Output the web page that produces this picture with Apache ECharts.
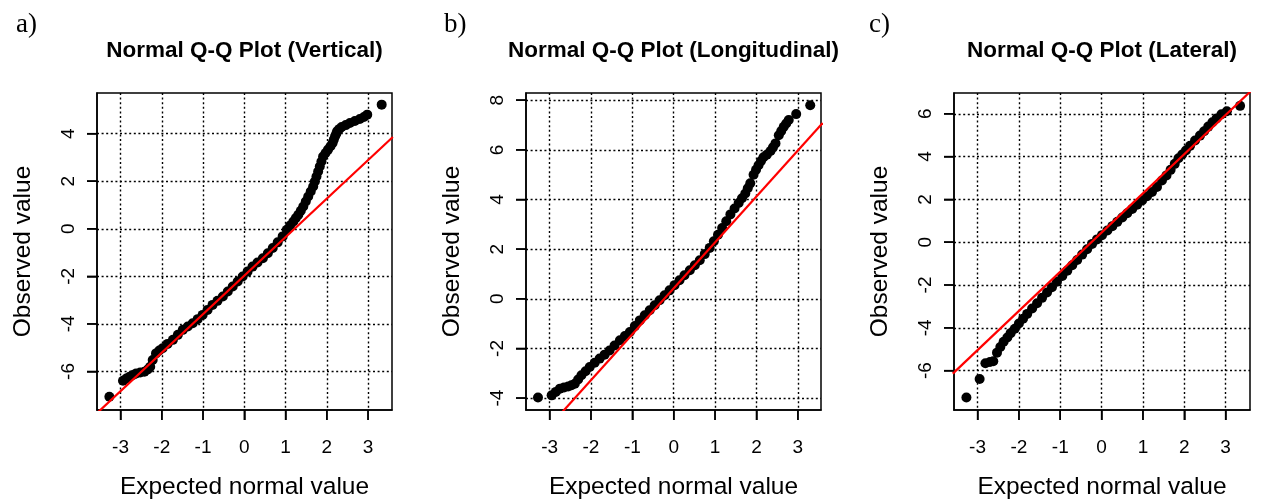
<!DOCTYPE html>
<html>
<head>
<meta charset="utf-8">
<title>Normal Q-Q Plots</title>
<script src="https://cdn.jsdelivr.net/npm/echarts@6/dist/echarts.min.js"></script>
<style>
  html, body { margin: 0; padding: 0; background: #fff; }
  #chart { width: 1262px; height: 500px; }
</style>
</head>
<body>
<div id="chart"></div>
<script>
// Panel titles and letters
const panelLetters = ['a)', 'b)', 'c)'];
const panelTitles = ['Normal Q-Q Plot (Vertical)', 'Normal Q-Q Plot (Longitudinal)', 'Normal Q-Q Plot (Lateral)'];

// Tick labels
const xTicks = [-3, -2, -1, 0, 1, 2, 3];
const yTicksA = [-6, -4, -2, 0, 2, 4];
const yTicksB = [-4, -2, 0, 2, 4, 6, 8];
const yTicksC = [-6, -4, -2, 0, 2, 4, 6];

// Vertical: expected normal value / observed value
const vertExpected = [-3.27, -2.94, -2.86, -2.78, -2.70, -2.62, -2.52, -2.42, -2.34, -2.28, -2.22, -2.14, -2.06, -1.98, -1.86, -1.73, -1.61, -1.49, -1.37, -1.25, -1.13, -1.01, -0.89, -0.77, -0.65, -0.52, -0.40, -0.28, -0.16, -0.04, 0.08, 0.20, 0.32, 0.45, 0.57, 0.69, 0.81, 0.93, 1.03, 1.11, 1.19, 1.25, 1.31, 1.37, 1.43, 1.49, 1.55, 1.61, 1.67, 1.71, 1.75, 1.79, 1.83, 1.87, 1.91, 1.97, 2.03, 2.09, 2.14, 2.17, 2.20, 2.23, 2.25, 2.30, 2.36, 2.46, 2.56, 2.68, 2.80, 2.90, 2.98, 3.33];
const vertObserved = [-7.06, -6.39, -6.30, -6.22, -6.15, -6.08, -6.04, -6.01, -5.92, -5.80, -5.52, -5.24, -5.12, -5.02, -4.84, -4.67, -4.46, -4.25, -4.11, -3.97, -3.80, -3.62, -3.41, -3.20, -3.03, -2.85, -2.64, -2.43, -2.22, -2.01, -1.80, -1.59, -1.42, -1.24, -1.03, -0.81, -0.57, -0.32, -0.04, 0.14, 0.31, 0.45, 0.59, 0.76, 0.94, 1.15, 1.36, 1.57, 1.78, 1.99, 2.20, 2.41, 2.62, 2.83, 3.04, 3.19, 3.33, 3.47, 3.61, 3.75, 3.89, 4.00, 4.10, 4.19, 4.28, 4.36, 4.45, 4.53, 4.62, 4.70, 4.80, 5.22];
const vertRefLine = [[-3.6, -7.80], [3.6, 3.86]];

// Longitudinal
const longExpected = [-3.28, -2.95, -2.85, -2.75, -2.65, -2.55, -2.47, -2.39, -2.31, -2.23, -2.13, -2.03, -1.91, -1.79, -1.67, -1.55, -1.43, -1.30, -1.18, -1.06, -0.94, -0.82, -0.70, -0.58, -0.46, -0.34, -0.22, -0.10, 0.02, 0.14, 0.26, 0.39, 0.51, 0.63, 0.75, 0.87, 0.97, 1.07, 1.17, 1.27, 1.37, 1.47, 1.57, 1.65, 1.73, 1.79, 1.85, 1.93, 1.99, 2.05, 2.11, 2.17, 2.25, 2.34, 2.40, 2.46, 2.54, 2.60, 2.66, 2.72, 2.78, 2.96, 3.30];
const longObserved = [-3.98, -3.89, -3.75, -3.62, -3.57, -3.53, -3.48, -3.42, -3.25, -3.08, -2.92, -2.75, -2.58, -2.41, -2.25, -2.08, -1.88, -1.67, -1.50, -1.34, -1.10, -0.87, -0.66, -0.46, -0.26, -0.06, 0.14, 0.34, 0.55, 0.75, 0.95, 1.15, 1.35, 1.55, 1.80, 2.05, 2.32, 2.58, 2.85, 3.12, 3.40, 3.64, 3.86, 4.05, 4.24, 4.45, 4.65, 5.00, 5.20, 5.38, 5.55, 5.70, 5.80, 5.95, 6.10, 6.26, 6.59, 6.76, 6.93, 7.06, 7.20, 7.44, 7.80];
const longRefLine = [[-3.6, -6.24], [3.6, 7.08]];

// Lateral
const latExpected = [-3.27, -2.95, -2.81, -2.70, -2.62, -2.53, -2.45, -2.37, -2.28, -2.20, -2.10, -2.00, -1.90, -1.80, -1.68, -1.56, -1.44, -1.32, -1.20, -1.08, -0.95, -0.83, -0.71, -0.59, -0.47, -0.35, -0.23, -0.11, 0.01, 0.14, 0.26, 0.38, 0.50, 0.62, 0.74, 0.86, 0.98, 1.10, 1.22, 1.34, 1.46, 1.57, 1.67, 1.77, 1.86, 1.95, 2.04, 2.14, 2.26, 2.38, 2.48, 2.58, 2.68, 2.78, 2.90, 3.03, 3.35];
const latObserved = [-7.26, -6.39, -5.66, -5.60, -5.56, -5.16, -4.90, -4.65, -4.45, -4.25, -4.04, -3.80, -3.58, -3.35, -3.10, -2.85, -2.60, -2.35, -2.10, -1.85, -1.58, -1.33, -1.08, -0.83, -0.58, -0.33, -0.08, 0.13, 0.33, 0.55, 0.75, 0.95, 1.15, 1.35, 1.55, 1.75, 1.95, 2.15, 2.35, 2.58, 2.88, 3.12, 3.38, 3.66, 3.92, 4.10, 4.28, 4.50, 4.75, 4.98, 5.18, 5.40, 5.60, 5.78, 5.98, 6.12, 6.37];
const latRefLine = [[-3.6, -6.14], [3.6, 7.04]];

const panels = [
  { left: 97,  width: 295, xRange: [-3.57, 3.58], yRange: [-7.62, 5.71], yTicks: yTicksA, xs: vertExpected, ys: vertObserved, ref: vertRefLine },
  { left: 526, width: 295, xRange: [-3.57, 3.56], yRange: [-4.48, 8.29], yTicks: yTicksB, xs: longExpected, ys: longObserved, ref: longRefLine },
  { left: 954, width: 296, xRange: [-3.57, 3.59], yRange: [-7.84, 6.97], yTicks: yTicksC, xs: latExpected, ys: latObserved, ref: latRefLine }
];
const plotTop = 93;
const plotHeight = 317;
const tickLen = 10;
const sans = '"Liberation Sans", Arial, sans-serif';

// Outward tick marks on the bottom and left edges of a plot box
function xTickMark(params, api) {
  const x = api.coord([api.value(0), api.value(1)])[0];
  const yb = params.coordSys.y + params.coordSys.height;
  return { type: 'line', shape: { x1: x, y1: yb, x2: x, y2: yb + tickLen }, style: { stroke: '#000', lineWidth: 1.5 } };
}
function yTickMark(params, api) {
  const y = api.coord([api.value(0), api.value(1)])[1];
  const xl = params.coordSys.x;
  return { type: 'line', shape: { x1: xl, y1: y, x2: xl - tickLen, y2: y }, style: { stroke: '#000', lineWidth: 1.5 } };
}

const grids = [], xAxes = [], yAxes = [], series = [], graphics = [];
panels.forEach((p, i) => {
  grids.push({
    left: p.left, top: plotTop, width: p.width, height: plotHeight,
    containLabel: false, outerBoundsMode: 'none',
    show: true, borderColor: '#000', borderWidth: 1.5, backgroundColor: 'transparent'
  });
  const edgeStyle = { color: '#000', width: 1.5 };
  const gridStyle = { color: '#000', width: 1.4, type: [2, 2.6] };
  xAxes.push({
    gridIndex: i, type: 'value', min: p.xRange[0], max: p.xRange[1],
    position: 'bottom',
    axisLine: { show: true, onZero: false, lineStyle: edgeStyle },
    axisTick: { show: true, inside: false, length: tickLen, lineStyle: edgeStyle, customValues: xTicks },
    axisLabel: { show: true, customValues: xTicks, color: '#000', fontSize: 19, fontFamily: sans, margin: 28,
                 formatter: v => String(v) },
    splitLine: { show: true, lineStyle: gridStyle },
    name: 'Expected normal value', nameLocation: 'middle', nameGap: 65,
    nameTextStyle: { color: '#000', fontSize: 24.5, fontFamily: sans }
  });
  yAxes.push({
    gridIndex: i, type: 'value', min: p.yRange[0], max: p.yRange[1],
    position: 'left',
    axisLine: { show: true, onZero: false, lineStyle: edgeStyle },
    axisTick: { show: true, inside: false, length: tickLen, lineStyle: edgeStyle, customValues: p.yTicks },
    axisLabel: { show: true, customValues: p.yTicks, rotate: 90, color: '#000', fontSize: 19, fontFamily: sans, margin: 19,
                 formatter: v => String(v) },
    splitLine: { show: true, lineStyle: gridStyle },
    name: 'Observed value', nameLocation: 'middle', nameGap: 61,
    nameTextStyle: { color: '#000', fontSize: 24.5, fontFamily: sans }
  });
  series.push({
    type: 'scatter', xAxisIndex: i, yAxisIndex: i,
    data: p.xs.map((x, k) => [x, p.ys[k]]),
    symbol: 'circle', symbolSize: 10,
    itemStyle: { color: '#000', opacity: 1 },
    z: 2
  });
  series.push({
    type: 'line', xAxisIndex: i, yAxisIndex: i,
    data: p.ref, symbol: 'none', clip: true,
    lineStyle: { color: '#ff0000', width: 2.2 },
    z: 3
  });
  series.push({
    type: 'custom', xAxisIndex: i, yAxisIndex: i, clip: false, silent: true,
    data: xTicks.map(v => [v, 0]), renderItem: xTickMark, z: 4
  });
  series.push({
    type: 'custom', xAxisIndex: i, yAxisIndex: i, clip: false, silent: true,
    data: p.yTicks.map(v => [0, v]), renderItem: yTickMark, z: 4
  });
  const cx = p.left + p.width / 2;
  graphics.push({
    type: 'text', x: cx, y: 51,
    style: { text: panelTitles[i], font: 'bold 22.5px ' + sans, fill: '#000', align: 'center', verticalAlign: 'middle' }
  });
});
[16, 444, 869].forEach((x, i) => {
  graphics.push({
    type: 'text', x: x, y: 25,
    style: { text: panelLetters[i], font: '27px "Liberation Serif", "Times New Roman", serif', fill: '#000', align: 'left', verticalAlign: 'middle' }
  });
});

const chart = echarts.init(document.getElementById('chart'), null, { renderer: 'canvas' });
chart.setOption({
  animation: false,
  backgroundColor: '#fff',
  grid: grids,
  xAxis: xAxes,
  yAxis: yAxes,
  series: series,
  graphic: graphics
});
</script>
</body>
</html>
